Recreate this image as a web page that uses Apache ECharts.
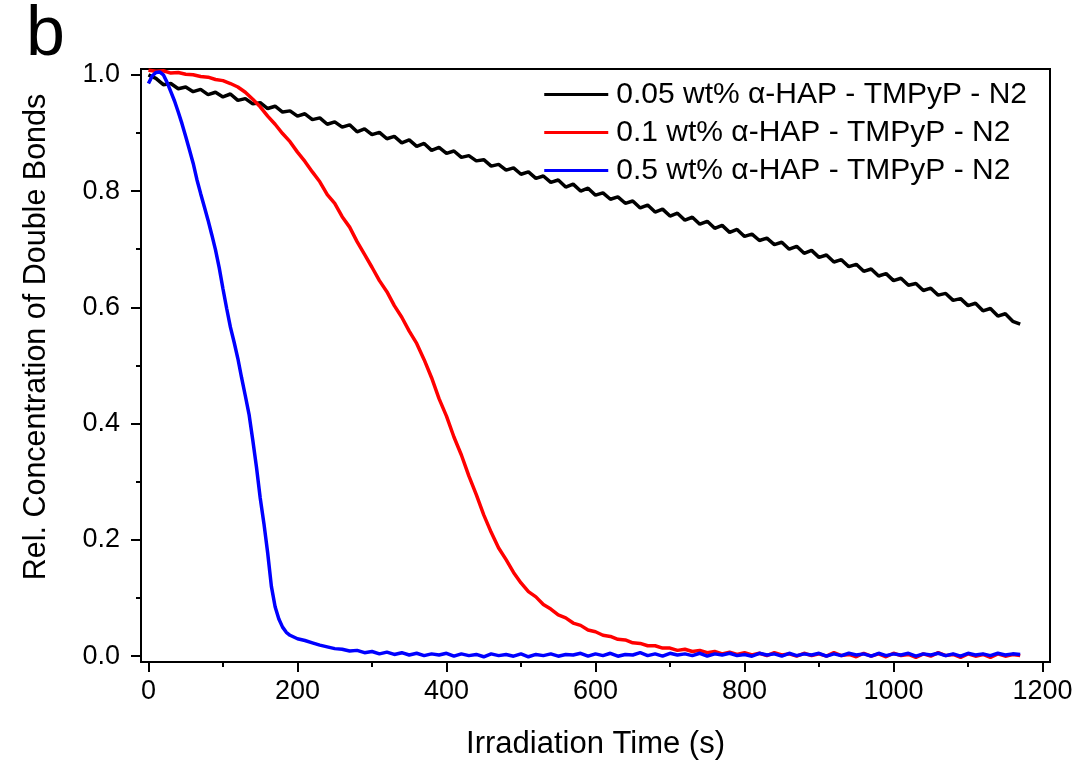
<!DOCTYPE html>
<html>
<head>
<meta charset="utf-8">
<script src="https://cdn.jsdelivr.net/npm/echarts@6/dist/echarts.min.js"></script>
<style>html,body{margin:0;padding:0;background:#fff}#chart{width:1078px;height:765px}</style>
</head>
<body>
<div id="chart"></div>
<script>
// ---- data ----
const seriesNames = [
  '0.05 wt% \u03b1-HAP - TMPyP - N2',
  '0.1 wt% \u03b1-HAP - TMPyP - N2',
  '0.5 wt% \u03b1-HAP - TMPyP - N2'
];
// sampling grid (s) for black and red curves: 0..1170 every 10 s
const timeStep = 10;
const timeCount = 118;
const blackValues = [
1.000,0.994,0.983,0.985,0.976,0.979,0.971,0.975,0.966,0.970,
0.962,0.967,0.956,0.959,0.950,0.952,0.942,0.946,0.936,0.938,
0.929,0.933,0.923,0.926,0.915,0.919,0.910,0.914,0.902,0.907,
0.897,0.901,0.890,0.894,0.883,0.888,0.877,0.882,0.870,0.875,
0.865,0.869,0.858,0.861,0.852,0.854,0.843,0.846,0.836,0.840,
0.829,0.833,0.822,0.826,0.815,0.819,0.807,0.812,0.800,0.805,
0.793,0.797,0.786,0.790,0.779,0.783,0.771,0.776,0.764,0.769,
0.757,0.762,0.750,0.755,0.743,0.748,0.736,0.741,0.729,0.734,
0.722,0.726,0.715,0.719,0.708,0.712,0.700,0.705,0.693,0.698,
0.686,0.690,0.678,0.682,0.670,0.674,0.662,0.666,0.654,0.658,
0.646,0.650,0.638,0.641,0.629,0.633,0.621,0.624,0.612,0.615,
0.603,0.607,0.594,0.598,0.585,0.589,0.576,0.571
];
const redValues = [
1.008,1.006,1.007,1.003,1.004,1.001,1.000,0.997,0.996,0.992,
0.990,0.985,0.979,0.970,0.958,0.945,0.929,0.915,0.899,0.885,
0.867,0.851,0.833,0.816,0.794,0.779,0.756,0.738,0.713,0.691,
0.669,0.646,0.627,0.603,0.583,0.559,0.538,0.510,0.479,0.443,
0.413,0.377,0.346,0.310,0.278,0.243,0.213,0.186,0.166,0.144,
0.126,0.111,0.102,0.089,0.081,0.071,0.066,0.057,0.053,0.045,
0.042,0.036,0.034,0.029,0.028,0.023,0.022,0.018,0.018,0.014,
0.014,0.010,0.012,0.008,0.010,0.006,0.008,0.004,0.007,0.003,
0.006,0.002,0.005,0.001,0.006,0.002,0.004,0.000,0.005,0.001,
0.004,0.000,0.006,0.001,0.003,-0.001,0.005,0.000,0.004,-0.001,
0.005,0.001,0.003,-0.002,0.004,0.000,0.006,0.001,0.003,-0.002,
0.004,0.000,0.003,-0.002,0.004,0.000,0.003,0.001
];
// blue curve: 0..200 every 5 s, then 210..1170 every 10 s
const blueTimeFine = [0,5,10,15,20,25,30,35,40,45,50,55,60,65,70,75,80,85,90,95,100,
  105,110,115,120,125,130,135,140,145,150,155,160,165,170,175,180,185,190,195,200];
const blueValuesFine = [
0.985,0.998,1.004,1.005,1.000,0.987,0.971,0.955,0.936,0.916,
0.894,0.871,0.848,0.820,0.796,0.773,0.750,0.725,0.699,0.668,
0.632,0.598,0.566,0.540,0.512,0.479,0.448,0.416,0.372,0.325,
0.272,0.228,0.178,0.120,0.085,0.064,0.050,0.041,0.036,0.033,0.030
];
const blueTailStart = 210;
const blueValuesTail = [
0.027,0.023,0.019,0.016,0.013,0.012,0.009,0.010,0.006,0.008,
0.004,0.007,0.003,0.006,0.002,0.005,0.001,0.004,0.002,0.005,
0.000,0.004,0.001,0.003,-0.001,0.004,0.001,0.003,0.000,0.004,
-0.001,0.003,0.001,0.004,0.000,0.003,0.002,0.005,0.000,0.004,
0.001,0.005,0.000,0.003,0.002,0.006,0.001,0.004,0.000,0.005,
0.002,0.004,0.001,0.005,0.000,0.004,0.002,0.005,0.001,0.003,
0.000,0.005,0.002,0.004,0.000,0.005,0.001,0.004,0.002,0.005,
0.000,0.004,0.001,0.005,0.002,0.004,0.000,0.005,0.001,0.004,
0.002,0.005,0.000,0.004,0.002,0.005,0.001,0.004,0.000,0.005,
0.002,0.004,0.001,0.005,0.002,0.004,0.003
];
const xMajorTicks = [0,200,400,600,800,1000,1200];
const xMinorTicks = [100,300,500,700,900,1100];
const yMajorTicks = [0,0.2,0.4,0.6,0.8,1.0];
const yMinorTicks = [0.1,0.3,0.5,0.7,0.9];
const xTitle = 'Irradiation Time (s)';
const yTitle = 'Rel. Concentration of Double Bonds';
const panelLabel = 'b';

// ---- build series data ----
const timeGrid = [];
for (let i = 0; i < timeCount; i++) timeGrid.push(i * timeStep);
const blackData = timeGrid.map((t, i) => [t, blackValues[i]]);
const redData = timeGrid.map((t, i) => [t, redValues[i]]);
const blueData = blueTimeFine.map((t, i) => [t, blueValuesFine[i]])
  .concat(blueValuesTail.map((v, i) => [blueTailStart + i * timeStep, v]));

const FONT = '"Liberation Sans", Arial, sans-serif';
const chart = echarts.init(document.getElementById('chart'), null, {renderer: 'canvas'});
const xBase = {type: 'value', min: -10, max: 1210, splitLine: {show: false}};
const yBase = {type: 'value', min: -0.01, max: 1.01, splitLine: {show: false}};
chart.setOption({
  animation: false,
  backgroundColor: '#fff',
  title: {
    text: panelLabel, left: 21, top: -4,
    textStyle: {fontFamily: FONT, fontSize: 70, fontWeight: 'normal', color: '#000'}
  },
  grid: {left: 141, right: 28, top: 69, bottom: 99, show: true, borderColor: '#000', borderWidth: 2, backgroundColor: 'transparent'},
  legend: {
    orient: 'vertical', right: 46, top: 74, itemGap: 7,
    itemWidth: 64, itemHeight: 3, icon: 'rect', align: 'left',
    textStyle: {fontFamily: FONT, fontSize: 30, color: '#000', lineHeight: 31, padding: [0,0,0,3]},
    data: seriesNames
  },
  xAxis: [
    Object.assign({}, xBase, {
      position: 'bottom',
      name: xTitle, nameLocation: 'middle', nameGap: 67,
      nameTextStyle: {fontFamily: FONT, fontSize: 31, color: '#000'},
      axisLine: {show: true, onZero: false, lineStyle: {color: '#000', width: 2}},
      axisTick: {show: true, inside: false, length: 10, lineStyle: {color: '#000', width: 2}, customValues: xMajorTicks},
      axisLabel: {show: true, margin: 16, fontFamily: FONT, fontSize: 27, color: '#000', customValues: xMajorTicks, formatter: v => String(v)}
    }),
    Object.assign({}, xBase, {
      position: 'bottom',
      axisLine: {show: false, onZero: false},
      axisTick: {show: true, inside: false, length: 5, lineStyle: {color: '#000', width: 2}, customValues: xMinorTicks},
      axisLabel: {show: false}
    })
  ],
  yAxis: [
    Object.assign({}, yBase, {
      position: 'left',
      axisLine: {show: true, onZero: false, lineStyle: {color: '#000', width: 2}},
      axisTick: {show: true, inside: false, length: 10, lineStyle: {color: '#000', width: 2}, customValues: yMajorTicks},
      axisLabel: {show: true, margin: 21, fontFamily: FONT, fontSize: 27, color: '#000', customValues: yMajorTicks, formatter: v => v.toFixed(1)}
    }),
    Object.assign({}, yBase, {
      position: 'left',
      axisLine: {show: false, onZero: false},
      axisTick: {show: true, inside: false, length: 5, lineStyle: {color: '#000', width: 2}, customValues: yMinorTicks},
      axisLabel: {show: false}
    })
  ],
  graphic: [{
    type: 'text', x: 37, y: 337, rotation: Math.PI / 2,
    style: {text: yTitle, fontFamily: FONT, fontSize: 30.5, fill: '#000', align: 'center', verticalAlign: 'middle'}
  }],
  series: [
    {name: seriesNames[0], type: 'line', data: blackData, showSymbol: false, symbol: 'none', lineStyle: {color: '#000000', width: 3.5}, itemStyle: {color: '#000000'}},
    {name: seriesNames[1], type: 'line', data: redData, showSymbol: false, symbol: 'none', lineStyle: {color: '#ff0000', width: 3.5}, itemStyle: {color: '#ff0000'}},
    {name: seriesNames[2], type: 'line', data: blueData, showSymbol: false, symbol: 'none', lineStyle: {color: '#0000ff', width: 3.5}, itemStyle: {color: '#0000ff'}}
  ]
});
</script>
</body>
</html>
